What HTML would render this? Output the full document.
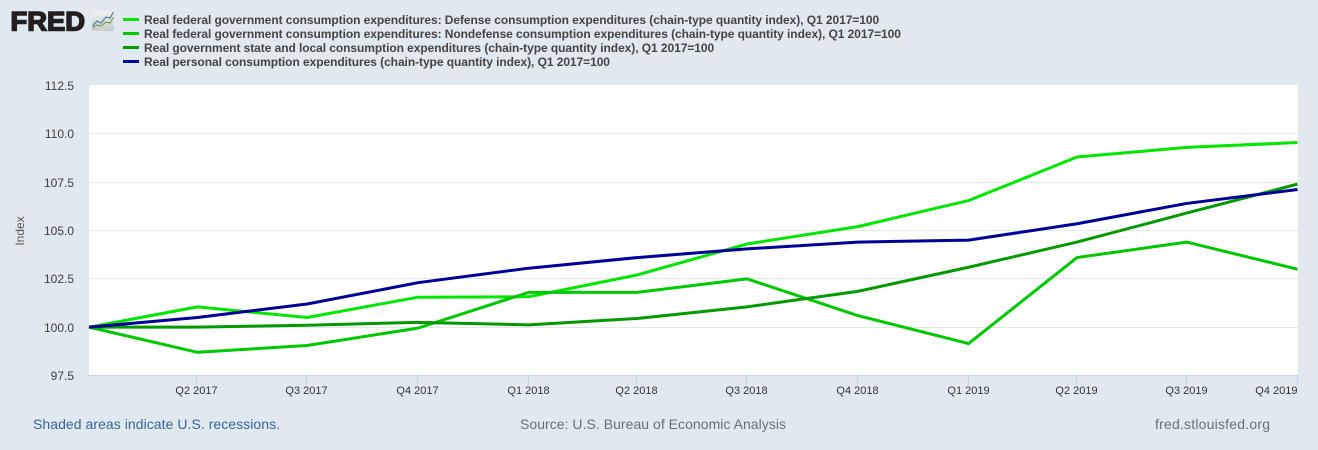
<!DOCTYPE html>
<html lang="en">
<head>
<meta charset="utf-8">
<title>FRED chart</title>
<style>
html,body{margin:0;padding:0;background:#e1e9f0;}
#wrap{position:relative;width:1318px;height:450px;overflow:hidden;background:#e1e9f0;font-family:"Liberation Sans",Arial,sans-serif;}
svg{position:absolute;left:0;top:0;}
text{font-family:"Liberation Sans",Arial,sans-serif;}
</style>
</head>
<body>
<div id="wrap">
<svg id="chart" width="1318" height="450" viewBox="0 0 1318 450">
  <defs>
    <linearGradient id="logoGrad" x1="0" y1="0" x2="0" y2="1">
      <stop offset="0" stop-color="#f0f2f2"/>
      <stop offset="1" stop-color="#c8cccb"/>
    </linearGradient>
  </defs>
  <rect x="89" y="85" width="1209" height="290.5" fill="#ffffff"/>
  <g id="grid"></g>
  <g id="axes"></g>
  <g id="series"></g>

  <g>
    <text x="10.5" y="30.3" font-size="26.5" font-weight="bold" fill="#231f20" stroke="#231f20" stroke-width="1.5" textLength="74.5" lengthAdjust="spacingAndGlyphs">FRED</text>
    <rect x="92" y="11" width="22" height="20" rx="2" fill="url(#logoGrad)"/>
    <polyline points="92.5,26 97,21 101,23 106,17 110,18 113.5,12" fill="none" stroke="#4a7fa5" stroke-width="1.2"/>
    <polyline points="92.5,28 97,25 101,26 106,22 110,23 113.5,17" fill="none" stroke="#7f9f50" stroke-width="1.2"/>
  </g>

  <g id="legend"></g>

  <text transform="translate(24,231) rotate(-90)" text-anchor="middle" font-size="12" fill="#555555">Index</text>

  <text x="33" y="429" font-size="14" fill="#3a6399" textLength="247">Shaded areas indicate U.S. recessions.</text>
  <text x="520" y="429" font-size="14" fill="#6a6f75" textLength="266">Source: U.S. Bureau of Economic Analysis</text>
  <text x="1155" y="429" font-size="14" fill="#6a6f75" textLength="115">fred.stlouisfed.org</text>
</svg>
</div>
<script>
const dates = ["2017-01-01","2017-04-01","2017-07-01","2017-10-01","2018-01-01","2018-04-01","2018-07-01","2018-10-01","2019-01-01","2019-04-01","2019-07-01","2019-10-01"];
const xTickLabels = ["Q2 2017","Q3 2017","Q4 2017","Q1 2018","Q2 2018","Q3 2018","Q4 2018","Q1 2019","Q2 2019","Q3 2019","Q4 2019"];
const yTicks = [97.5,100,102.5,105,107.5,110,112.5];
const seriesNames = [
  "Real federal government consumption expenditures: Defense consumption expenditures (chain-type quantity index), Q1 2017=100",
  "Real federal government consumption expenditures: Nondefense consumption expenditures (chain-type quantity index), Q1 2017=100",
  "Real government state and local consumption expenditures (chain-type quantity index), Q1 2017=100",
  "Real personal consumption expenditures (chain-type quantity index), Q1 2017=100"
];
const defense = [100,101.05,100.5,101.55,101.57,102.7,104.3,105.2,106.55,108.8,109.3,109.55];
const nondefense = [100,98.7,99.05,99.95,101.8,101.8,102.5,100.6,99.15,103.6,104.4,103.0];
const stateLocal = [100,100,100.1,100.25,100.12,100.45,101.05,101.85,103.1,104.4,105.9,107.4];
const personal = [100,100.5,101.2,102.3,103.05,103.6,104.05,104.4,104.5,105.35,106.4,107.12];
const seriesColors = ["#00e600","#00c800","#009a00","#000099"];

const NS = "http://www.w3.org/2000/svg";
const plot = {left:89,right:1297.5,top:85.5,bottom:375.5};
const t0 = Date.parse(dates[0]);
const t1 = Date.parse(dates[dates.length-1]);
function xAt(dateStr){return plot.left+(Date.parse(dateStr)-t0)/(t1-t0)*(plot.right-plot.left);}
function yAt(v){return plot.bottom-(v-97.5)/(112.5-97.5)*(plot.bottom-plot.top);}
function mk(tag,parent){const e=document.createElementNS(NS,tag);document.getElementById(parent).appendChild(e);return e;}

yTicks.forEach(function(v){
  const y=Math.floor(yAt(v))+0.5;
  if(v>97.5 && v<112.5){
    const g=mk("line","grid");
    
    
    g.setAttribute("x1",plot.left);g.setAttribute("x2",plot.right+0.5);
    g.setAttribute("y1",y);g.setAttribute("y2",y);
    g.setAttribute("stroke","#e6e6e6");g.setAttribute("stroke-width","1");
  }
  const t=mk("text","axes");
  
  
  t.setAttribute("x",74);t.setAttribute("y",y+4.5);
  t.setAttribute("text-anchor","end");t.setAttribute("font-size","12");t.setAttribute("fill","#3d3d3d");
  t.textContent=v.toFixed(1);
});

const baseline=mk("line","axes");


baseline.setAttribute("x1",plot.left);baseline.setAttribute("x2",plot.right+0.5);
baseline.setAttribute("y1",375.5);baseline.setAttribute("y2",375.5);
baseline.setAttribute("stroke","#c6d4e6");baseline.setAttribute("stroke-width","1");

xTickLabels.forEach(function(label,i){
  const x=Math.round(xAt(dates[i+1]))-0.5;
  const tk=mk("line","axes");
  
  
  tk.setAttribute("x1",x);tk.setAttribute("x2",x);
  tk.setAttribute("y1",375);tk.setAttribute("y2",385);
  tk.setAttribute("stroke","#c6d4e6");tk.setAttribute("stroke-width","1");
  const t=mk("text","axes");
  
  
  const last=i===xTickLabels.length-1;
  t.setAttribute("x",last?plot.right:x);
  t.setAttribute("y",394);
  t.setAttribute("text-anchor",last?"end":"middle");
  t.setAttribute("font-size","11");t.setAttribute("fill","#333333");
  t.textContent=label;
});

[defense,nondefense,stateLocal,personal].forEach(function(vals,i){
  const pl=mk("polyline","series");
  
  
  pl.setAttribute("fill","none");
  pl.setAttribute("stroke",seriesColors[i]);
  pl.setAttribute("stroke-width","3");
  pl.setAttribute("stroke-linejoin","round");
  pl.setAttribute("points",vals.map(function(v,j){return xAt(dates[j]).toFixed(2)+","+yAt(v).toFixed(2);}).join(" "));
});

seriesNames.forEach(function(name,i){
  const y=20+i*14;
  const sw=mk("rect","legend");
  
  
  sw.setAttribute("x",123);sw.setAttribute("y",y-2);
  sw.setAttribute("width",16);sw.setAttribute("height",3);
  sw.setAttribute("fill",seriesColors[i]);
  const t=mk("text","legend");
  
  
  t.setAttribute("x",144);t.setAttribute("y",y+4);
  t.setAttribute("font-size","12");t.setAttribute("font-weight","bold");t.setAttribute("fill","#444444");
  t.setAttribute("letter-spacing","-0.066");
  t.textContent=name;
});
</script>
</body>
</html>
